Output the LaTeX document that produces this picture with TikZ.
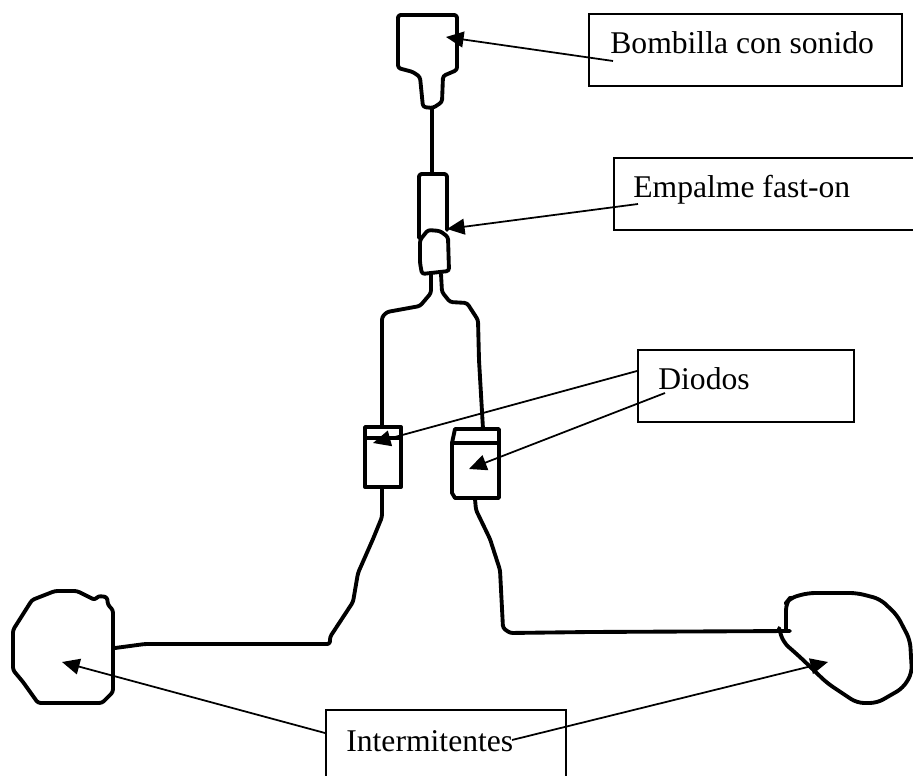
\documentclass[tikz,border=0pt]{standalone}
\usepackage{fontspec}
\setmainfont{Liberation Serif}
\usetikzlibrary{arrows.meta}
\tikzset{
  sketch/.style={line width=2.2pt, line join=round, line cap=round, rounded corners=1.5pt},
  labelbox/.style={draw, line width=1pt, inner sep=0pt},
  labeltext/.style={inner sep=0pt, font=\fontsize{18}{22}\selectfont},
  pointer/.style={line width=1pt, -{Triangle[length=10pt,width=9pt]}}
}
\begin{document}
\begin{tikzpicture}[x=0.02cm, y=-0.02cm]
  \useasboundingbox (0,0) rectangle (913,776);

  % Bulb and its wire
  \draw[sketch] (398,15) -- (457,15) -- (457,70) -- (443,76) -- (442,102) -- (433,108)
    -- (423,107) -- (420,77) -- (413,72) -- (398,68) -- cycle;
  \draw[sketch] (432,108) -- (432,173);

  % Fast-on connector
  \draw[sketch] (419,238) -- (419,174) -- (447,174) -- (447,230);
  \draw[sketch] (420,240) -- (428,230) -- (440,231) -- (448,237) -- (449,271) -- (422,274)
    -- (420,263) -- cycle;

  % Branches down to the diodes
  \draw[sketch] (431,274) -- (431,293) -- (420,306) -- (387,312) -- (382,317) -- (382,427);
  \draw[sketch] (441,274) -- (442,292) -- (450,302) -- (467,303) -- (478,320) -- (479,360)
    -- (483,429);

  % Diodes
  \draw[sketch, sharp corners] (365,427) rectangle (401,487);
  \draw[sketch] (365,438) -- (401,438);
  \draw[sketch, sharp corners] (455,429) -- (499,429) -- (499,498) -- (455,498) -- (452,493)
    -- (452,443) -- cycle;
  \draw[sketch] (452,443) -- (498,443);

  % Wires to the indicators
  \draw[sketch] (382,488) -- (382,517) -- (373,539) -- (358,573) -- (353,602) -- (330,637)
    -- (330,644) -- (145,644) -- (115,648);
  \draw[sketch] (475,499) -- (476,510) -- (490,539) -- (500,570) -- (503,628) -- (510,633)
    -- (590,632) -- (790,631);

  % Indicators
  \draw[sketch] (13,630) -- (32,600) -- (55,591) -- (77,591) -- (95,600) -- (98,596)
    -- (107,597) -- (108,605) -- (113,610) -- (113,692) -- (102,703) -- (38,703)
    -- (23,682) -- (13,670) -- cycle;
  \draw[sketch, rounded corners=4pt] (786,631) -- (786,603) -- (790,598) -- (808,593)
    -- (857,593) -- (880,599) -- (897,615) -- (910,640) -- (912,673) -- (903,688)
    -- (877,703) -- (857,703) -- (827,683) -- (800,657) -- (783,642) -- (779,628);

  % Label boxes
  \node[labelbox, anchor=north west, minimum width=313*0.02cm, minimum height=72*0.02cm]
    (boxBombilla) at (588,13) {};
  \node[labelbox, anchor=north west, minimum width=320*0.02cm, minimum height=72*0.02cm]
    (boxEmpalme) at (613,157) {};
  \node[labelbox, anchor=north west, minimum width=216*0.02cm, minimum height=72*0.02cm]
    (boxDiodos) at (637,349) {};
  \node[labelbox, anchor=north west, minimum width=240*0.02cm, minimum height=90*0.02cm]
    (boxIntermitentes) at (325,709) {};

  % Label texts
  \node[labeltext, anchor=base west] (txtBombilla) at (610,54) {Bombilla con sonido};
  \node[labeltext, anchor=base west] (txtEmpalme) at (633,198) {Empalme fast-on};
  \node[labeltext, anchor=base west] (txtDiodos) at (658,390) {Diodos};
  \node[labeltext, anchor=base west] (txtIntermitentes) at (346,751) {Intermitentes};

  % Pointer ends
  \coordinate (tailBombilla) at (613,61);
  \coordinate (tipBombilla) at (446,37);
  \coordinate (tailEmpalme) at (638,204);
  \coordinate (tipEmpalme) at (447,229);
  \coordinate (tailDiodoA) at (637,371);
  \coordinate (tipDiodoA) at (373,443);
  \coordinate (tailDiodoB) at (665,393);
  \coordinate (tipDiodoB) at (469,469);
  \coordinate (tailInterA) at (325,733);
  \coordinate (tipInterA) at (62,662);
  \coordinate (tailInterB) at (512,740);
  \coordinate (tipInterB) at (828,662);

  % Pointers
  \foreach \name in {Bombilla,Empalme,DiodoA,DiodoB,InterA,InterB} {
    \draw[pointer] (tail\name) -- (tip\name);
  }
\end{tikzpicture}
\end{document}
